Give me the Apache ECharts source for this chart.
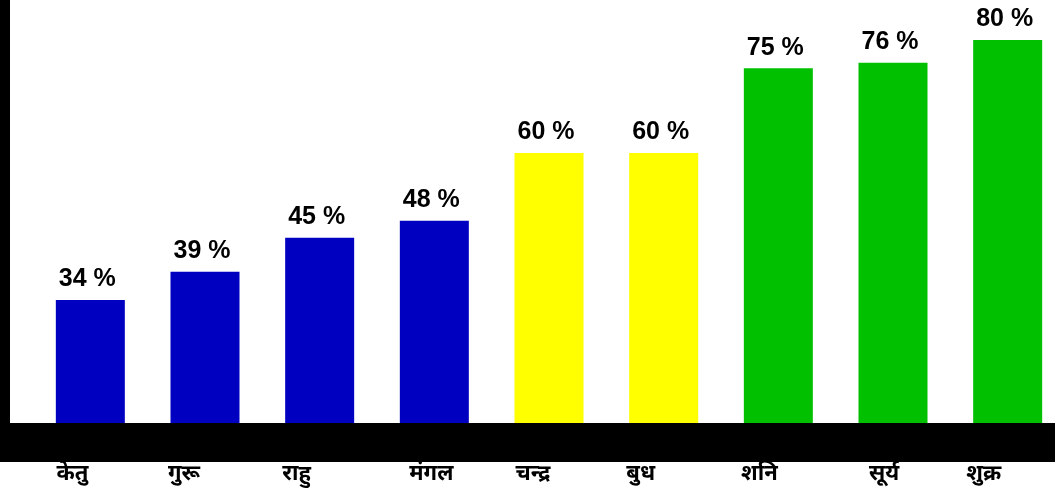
<!DOCTYPE html>
<html>
<head>
<meta charset="utf-8">
<script src="https://cdn.jsdelivr.net/npm/echarts@6/dist/echarts.min.js"></script>
<style>
html,body{margin:0;padding:0;background:#fff;}
#chart{width:1055px;height:489px;}
</style>
</head>
<body>
<div id="chart"></div>
<script>
// ग्रहों के नाम और प्रतिशत
var planets = ['केतु', 'गुरू', 'राहु', 'मंगल', 'चन्द्र', 'बुध', 'शनि', 'सूर्य', 'शुक्र'];
var percents = [34, 39, 45, 48, 60, 60, 75, 76, 80];
var barColors = ['#0000C0', '#0000C0', '#0000C0', '#0000C0', '#FFFF00', '#FFFF00', '#00C000', '#00C000', '#00C000'];
//नाम थोड़ा बाईं ओर खिसके हुए हैं (px)
var nameShift = [18, 21, 23, 3, 16, 23, 19, 9, 24];

var catData = [];
for (var i = 0; i < planets.length; i++) {
	catData.push({
		value: planets[i],
		textStyle: {padding: [0, nameShift[i] * 2, 0, 0]}
	});
}

var barData = [];
for (var j = 0; j < percents.length; j++) {
	barData.push({value: percents[j], itemStyle: {color: barColors[j]}});
}

var options = {
	animation: false,
	grid: {left: 33, right: -10, top: 0, bottom: 66, outerBoundsMode: 'none', containLabel: false},
	graphic: [
		{type: 'rect', left: 0, top: 423, shape: {width: 1055, height: 39}, style: {fill: '#000'}, z: 10}
	],
	xAxis: {
		type: 'category',
		data: catData,
		axisLine: {show: false},
		axisTick: {show: false},
		axisLabel: {
			margin: 40,
			color: '#000',
			fontSize: 22,
			fontWeight: 'bold',
			fontFamily: '"Noto Sans", "DejaVu Sans", sans-serif'
		}
	},
	yAxis: {
		type: 'value',
		min: 12.2,
		max: 87.1,
		offset: 28,
		splitLine: {show: false},
		axisTick: {show: false},
		axisLabel: {show: false},
		axisLine: {show: true, lineStyle: {color: '#000', width: 10}}
	},
	series: [{
		type: 'bar',
		barWidth: 69,
		data: barData,
		label: {
			show: true,
			position: 'top',
			distance: 8,
			offset: [-3, 0],
			color: '#000',
			fontSize: 25,
			fontWeight: 'bold',
			fontFamily: '"Liberation Sans", Arial, sans-serif',
			formatter: '{c} %'
		}
	}]
};

var Chart = echarts.init(document.getElementById('chart'));
Chart.setOption(options);
</script>
</body>
</html>
